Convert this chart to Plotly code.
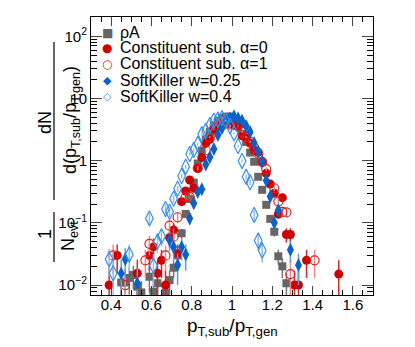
import plotly.graph_objects as go

# rho*A subtraction
x_rhoa = [0.45, 0.47, 0.49, 0.51, 0.53, 0.55, 0.59, 0.61, 0.63, 0.67, 0.69, 0.71, 0.73, 0.75,
          0.77, 0.79, 0.81, 0.83, 0.85, 0.87, 0.89, 0.91, 0.93, 0.95, 0.97, 0.99, 1.01, 1.03,
          1.05, 1.07, 1.09, 1.11, 1.13, 1.15, 1.17, 1.19, 1.21, 1.23, 1.25, 1.27]
y_rhoa = [0.011, 0.011, 0.013, 0.0145, 0.0094, 0.0076, 0.0136, 0.0078, 0.0107, 0.0075, 0.012, 0.019,
          0.030, 0.068, 0.139, 0.242, 0.443, 0.90, 1.45, 2.2, 2.9, 3.7, 4.4, 4.9, 5.1, 5.1, 4.6, 3.7,
          2.7, 2.0, 1.35, 0.96, 0.55, 0.34, 0.195, 0.116, 0.072, 0.029, 0.020, 0.0107]
e_rhoa = [0.005, 0.005, 0.006, 0.006, 0.005, 0.004, 0.006, 0.004, 0.005, 0.004, 0.005, 0.006,
          0.008, 0.012, 0.016, 0.02, 0.03, 0.04, 0.05, 0.06, 0.07, 0.08, 0.09, 0.09, 0.09, 0.09, 0.09, 0.08,
          0.07, 0.06, 0.05, 0.04, 0.035, 0.025, 0.02, 0.015, 0.012, 0.008, 0.007, 0.005]

# constituent subtraction alpha=0
x_cs0 = [0.39, 0.43, 0.53, 0.59, 0.61, 0.63, 0.65, 0.67, 0.69, 0.71, 0.73, 0.75, 0.77, 0.79, 0.81,
         0.83, 0.85, 0.87, 0.89, 0.91, 0.93, 0.95, 0.97, 0.99, 1.01, 1.03, 1.05, 1.07, 1.09, 1.11,
         1.13, 1.15, 1.17, 1.19, 1.21, 1.23, 1.25, 1.27, 1.29, 1.31, 1.33, 1.37, 1.53]
y_cs0 = [0.010, 0.030, 0.0155, 0.030, 0.041, 0.0155, 0.025, 0.010, 0.058, 0.077, 0.032, 0.219, 0.325,
         0.489, 0.359, 0.753, 1.12, 1.90, 2.2, 3.1, 3.5, 3.98, 3.9, 4.0, 3.75, 3.5, 2.5, 2.3, 1.9, 1.49,
         1.36, 0.96, 0.625, 0.42, 0.30, 0.139, 0.254, 0.065, 0.065, 0.010, 0.010, 0.025, 0.015]
e_cs0 = [0.009, 0.015, 0.010, 0.013, 0.015, 0.009, 0.012, 0.007, 0.018, 0.02, 0.013, 0.03, 0.035,
         0.04, 0.035, 0.05, 0.06, 0.08, 0.08, 0.1, 0.1, 0.11, 0.11, 0.11, 0.1, 0.1, 0.09, 0.08, 0.08, 0.07,
         0.07, 0.06, 0.05, 0.04, 0.033, 0.023, 0.03, 0.017, 0.017, 0.007, 0.007, 0.012, 0.010]

# constituent subtraction alpha=1
x_cs1 = [0.41, 0.47, 0.57, 0.59, 0.67, 0.69, 0.71, 0.73, 0.77, 0.79, 0.83, 0.87, 0.89, 0.91, 0.93,
         0.95, 0.97, 0.99, 1.01, 1.03, 1.05, 1.07, 1.09, 1.11, 1.13, 1.15, 1.17, 1.21, 1.23, 1.25,
         1.27, 1.29, 1.41]
y_cs1 = [0.030, 0.010, 0.025, 0.046, 0.030, 0.090, 0.060, 0.123, 0.26, 0.26, 0.76, 1.47, 2.4, 3.2, 3.6,
         3.9, 4.0, 3.8, 3.8, 3.6, 2.9, 2.4, 2.0, 1.6, 1.3, 0.95, 0.73, 0.36, 0.22, 0.15,
         0.147, 0.015, 0.025]
e_cs1 = [0.015, 0.008, 0.012, 0.016, 0.013, 0.022, 0.018, 0.025, 0.03, 0.03, 0.05, 0.07, 0.08, 0.1, 0.1,
         0.11, 0.11, 0.11, 0.11, 0.1, 0.09, 0.08, 0.08, 0.07, 0.07, 0.06, 0.05, 0.035, 0.028, 0.024,
         0.024, 0.010, 0.012]

# SoftKiller w=0.25
x_sk25 = [0.45, 0.47, 0.53, 0.69, 0.71, 0.73, 0.75, 0.77, 0.79, 0.81, 0.83, 0.85, 0.87, 0.89, 0.91,
          0.93, 0.95, 0.97, 0.99, 1.01, 1.03, 1.05, 1.07, 1.09, 1.11, 1.13, 1.15, 1.17, 1.19, 1.21,
          1.23, 1.29, 1.33]
y_sk25 = [0.0154, 0.026, 0.0107, 0.053, 0.041, 0.021, 0.041, 0.031, 0.118, 0.206, 0.313, 0.346, 0.87,
          1.13, 1.54, 2.59, 3.31, 4.6, 4.8, 5.2, 4.8, 4.4, 3.6, 2.9, 1.93, 1.41, 0.97, 0.48, 0.266, 0.10,
          0.16, 0.037, 0.021]
e_sk25 = [0.01, 0.013, 0.008, 0.018, 0.016, 0.011, 0.016, 0.014, 0.025, 0.032, 0.04, 0.042, 0.06,
          0.07, 0.08, 0.1, 0.11, 0.12, 0.12, 0.13, 0.12, 0.12, 0.1, 0.09, 0.08, 0.07, 0.06, 0.04, 0.03, 0.022,
          0.027, 0.014, 0.011]

# SoftKiller w=0.4
x_sk40 = [0.39, 0.41, 0.49, 0.59, 0.61, 0.63, 0.65, 0.67, 0.69, 0.71, 0.73, 0.75, 0.77, 0.79, 0.81,
          0.83, 0.85, 0.87, 0.89, 0.91, 0.93, 0.95, 0.97, 0.99, 1.01, 1.03, 1.05, 1.07, 1.09, 1.11,
          1.13, 1.15]
y_sk40 = [0.026, 0.0155, 0.031, 0.118, 0.0204, 0.050, 0.061, 0.167, 0.151, 0.245, 0.355, 0.567, 0.80,
          1.28, 1.48, 1.85, 2.65, 3.03, 3.75, 4.4, 4.6, 4.8, 4.4, 3.6, 2.75, 1.72, 0.99, 0.55, 0.45, 0.134,
          0.052, 0.036]
e_sk40 = [0.012, 0.009, 0.014, 0.025, 0.011, 0.017, 0.019, 0.03, 0.028, 0.035, 0.04, 0.05, 0.06,
          0.08, 0.08, 0.09, 0.1, 0.11, 0.12, 0.13, 0.13, 0.13, 0.13, 0.12, 0.1, 0.08, 0.06, 0.05, 0.045, 0.025,
          0.016, 0.013]

legend_labels = ["ρA", "Constituent sub. α=0", "Constituent sub. α=1",
                 "SoftKiller w=0.25", "SoftKiller w=0.4"]

FONT = "Liberation Sans, Arial, Helvetica, sans-serif"

# plot area in window pixels; the page body adds an 8px offset
OFF = 8
L, R, T, B = 91, 373, 17, 295
W, H = 415 - OFF, 347 - OFF


def px(xp):
    return (xp - L) / (R - L)


def py(yp):
    return (B - yp) / (B - T)


fig = go.Figure()

series = [
    (x_rhoa, y_rhoa, e_rhoa, dict(symbol="square", size=8, color="#666666"), "#777777"),
    (x_cs0, y_cs0, e_cs0, dict(symbol="circle", size=9, color="#cc0000"), "#d22a2a"),
    (x_cs1, y_cs1, e_cs1, dict(symbol="circle-open", size=9, color="#e02020", line=dict(width=1.2)), "#ec8a8a"),
    (x_sk25, y_sk25, e_sk25, dict(symbol="diamond-tall", size=10, color="#0a62c9"), "#5d9de0"),
    (x_sk40, y_sk40, e_sk40, dict(symbol="diamond-tall-open", size=11, color="#3a8ee6", line=dict(width=1.2)), "#8fbdee"),
]

for (xs, ys, es, mk, ecol), name in zip(series, legend_labels):
    fig.add_trace(go.Scatter(
        x=xs, y=ys, mode="markers", name=name, marker=mk, showlegend=False,
        error_y=dict(type="data", array=es, color=ecol, thickness=1.5, width=0),
    ))

# legend drawn as annotations (ROOT-style tight spacing)
glyphs = [("■", "#666666", 12), ("●", "#cc0000", 12), ("○", "#e02020", 12),
          ("◆", "#0a62c9", 11), ("◇", "#3a8ee6", 11)]
leg_y = [33, 48, 64, 80, 96]
for (g, c, s), lab, yy in zip(glyphs, legend_labels, leg_y):
    fig.add_annotation(x=px(107), y=py(yy), xref="paper", yref="paper", text=g, showarrow=False,
                       font=dict(size=s, color=c, family="DejaVu Sans"), xanchor="center", yanchor="middle")
    fig.add_annotation(x=px(118), y=py(yy), xref="paper", yref="paper", text=lab, showarrow=False,
                       font=dict(size=16, color="black", family=FONT), xanchor="left", yanchor="middle")

# y-axis title as a fraction
yt = [("1", 45, 234, 18), ("N<sub>evt</sub>", 69, 236, 18), ("dN", 45, 122, 18),
      ("d(p<sub>T,sub</sub>/p<sub>T,gen</sub>)", 71, 120, 18)]
for txt, xx, yy, s in yt:
    fig.add_annotation(x=px(xx), y=py(yy), xref="paper", yref="paper", text=txt, showarrow=False,
                       textangle=-90, font=dict(size=s, color="black", family=FONT),
                       xanchor="center", yanchor="middle")
fig.add_shape(type="line", xref="paper", yref="paper", x0=px(54), x1=px(54), y0=py(212), y1=py(262),
              line=dict(color="black", width=1.2))
fig.add_shape(type="line", xref="paper", yref="paper", x0=px(54), x1=px(54), y0=py(42), y1=py(200),
              line=dict(color="black", width=1.2))

# x-axis title
fig.add_annotation(x=0.5, y=py(327), xref="paper", yref="paper",
                   text="p<sub>T,sub</sub>/p<sub>T,gen</sub>", showarrow=False,
                   font=dict(size=19, color="black", family=FONT), xanchor="center", yanchor="middle")

xt = [0.4, 0.6, 0.8, 1.0, 1.2, 1.4, 1.6]
xt_text = ["0.4", "0.6", "0.8", "1", "1.2", "1.4", "1.6"]
yt_vals = [0.01, 0.1, 1, 10, 100]
yt_text = ["10<sup>−2</sup>", "10<sup>−1</sup>", "1", "10", "10<sup>2</sup>"]

fig.update_layout(
    width=W, height=H,
    margin=dict(l=L - OFF, r=415 - R, t=T - OFF, b=347 - B, autoexpand=False),
    paper_bgcolor="white", plot_bgcolor="white",
    font=dict(family=FONT, size=15, color="black"),
    xaxis=dict(range=[0.3, 1.7], tickvals=xt, ticktext=xt_text, ticks="inside", ticklen=9,
               mirror="allticks", showline=True, linecolor="black", linewidth=1, automargin=False,
               showgrid=False, zeroline=False, tickfont=dict(size=15), ticklabelstandoff=-4,
               minor=dict(dtick=0.05, tick0=0.3, ticks="inside", ticklen=5, tickcolor="black", showgrid=False)),
    yaxis=dict(type="log", range=[-2.16, 2.31], tickvals=yt_vals, ticktext=yt_text, ticks="inside",
               ticklen=11, mirror="allticks", showline=True, linecolor="black", linewidth=1, automargin=False,
               showgrid=False, zeroline=False, tickfont=dict(size=15),
               minor=dict(dtick="D1", ticks="inside", ticklen=6, tickcolor="black", showgrid=False)),
)

fig.write_html("out.html")
